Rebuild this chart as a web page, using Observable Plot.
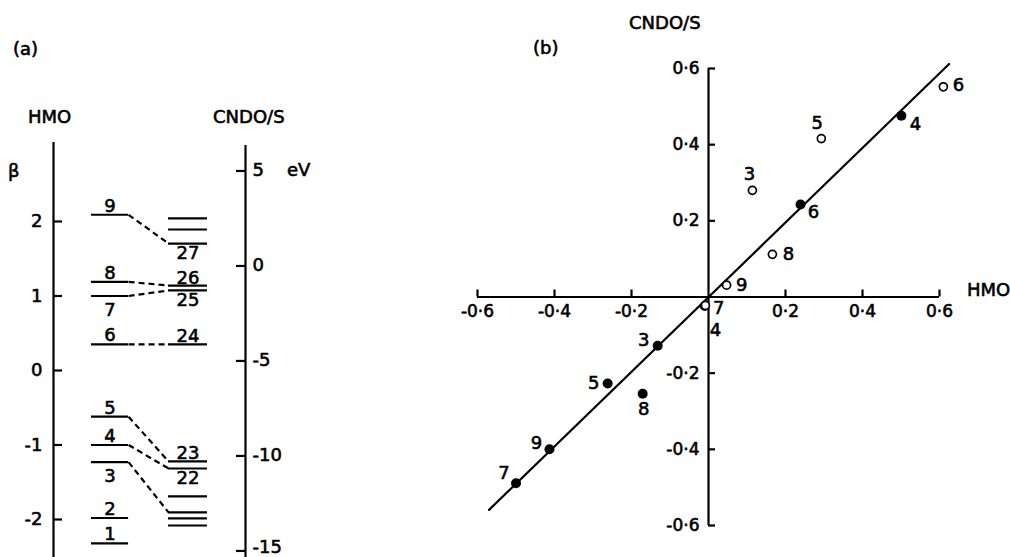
<!DOCTYPE html>
<html><head><meta charset="utf-8">
<script src="https://cdn.jsdelivr.net/npm/d3@7"></script>
<script src="https://cdn.jsdelivr.net/npm/@observablehq/plot@0.6"></script>
<style>
body{margin:0;background:#fff;}
#wrap{position:relative;width:1010px;height:557px;overflow:hidden;font-family:"DejaVu Sans",sans-serif;color:#000;background:#fff;}
.lbl{position:absolute;font-size:18px;line-height:18px;white-space:nowrap;-webkit-text-stroke:0.6px #000;}
#pa,#pb{position:absolute;top:0;}
#pa{left:0;} #pb{left:440px;}
</style></head><body>
<div id="wrap">
  <div id="pa"></div><div id="pb"></div>
  <div class="lbl" style="left:13px;top:40px;">(a)</div>
  <div class="lbl" style="left:28px;top:108px;">HMO</div>
  <div class="lbl" style="left:213px;top:108px;">CNDO/S</div>
  <div class="lbl" style="left:8px;top:162px;">β</div>
  <div class="lbl" style="left:287px;top:161px;">eV</div>
  <div class="lbl" style="left:533px;top:39px;">(b)</div>
  <div class="lbl" style="left:629px;top:14px;">CNDO/S</div>
  <div class="lbl" style="left:967px;top:281px;">HMO</div>
</div>
<script>
// ---------- Panel (a) data ----------
const hmoLabels = ["1","2","3","4","5","6","7","8","9"];
const hmoBeta   = [-2.32, -1.98, -1.23, -1.00, -0.62, 0.35, 1.00, 1.19, 2.09];
const cndoLabels = ["", "", "", "", "22", "23", "24", "25", "26", "27", "", ""];
const cndoEnergy = [-13.66, -13.29, -12.97, -12.13, -10.66, -10.29, -4.13, -1.29, -1.03, 1.18, 1.92, 2.50];
const corrHmoBeta    = [2.09, 1.19, 1.00, 0.35, -0.62, -1.00, -1.23];
const corrCndoEnergy = [1.18, -1.03, -1.29, -4.13, -10.29, -10.66, -12.97];
const betaTicks = [-2, -1, 0, 1, 2];
const eVTicks = [5, 0, -5, -10, -15];

// ---------- Panel (b) data ----------
const filledLabels = ["7","9","5","8","3","6","4"];
const filledHmo    = [-0.500, -0.413, -0.262, -0.171, -0.132, 0.239, 0.501];
const filledCndo   = [-0.489, -0.400, -0.227, -0.254, -0.128, 0.243, 0.476];
const openLabels = ["6","5","3","8","9","7","4"];
const openHmo    = [0.610, 0.293, 0.114, 0.166, 0.047, -0.010, -0.008];
const openCndo   = [0.552, 0.416, 0.280, 0.112, 0.031, -0.024, -0.022];
const fitHmo  = [-0.57, 0.625];
const fitCndo = [-0.559, 0.612];
const axisTicksB = [-0.6, -0.4, -0.2, 0.2, 0.4, 0.6];

// ---------- layout helpers ----------
const FONT = "DejaVu Sans";
const toBeta = e => 1.403 + 0.2550 * e;      // alignment of the eV axis against the β axis
const hmoX = [0.198, 0.391], cndoX = [0.599, 0.802];
const belowHmo = new Set(["3","7"]);
const belowCndo = new Set(["22","25","27"]);
const LW = 2.2;

const hmo = hmoBeta.map((b, i) => ({b, label: hmoLabels[i]}));
const cndo = cndoEnergy.map((e, i) => ({e, label: cndoLabels[i]}));
const links = corrHmoBeta.map((b, i) => ({b, e: corrCndoEnergy[i]}));

const txt = {fontFamily: FONT, fontSize: 18, fill: "black", stroke: "black", strokeWidth: 0.6};
const eVMain = eVTicks.slice(0, -1), eVLast = eVTicks.slice(-1);

const plotA = Plot.plot({
  width: 330, height: 557,
  marginLeft: 53, marginRight: 85, marginTop: 142, marginBottom: 0,
  x: {domain: [0, 1], axis: null},
  y: {domain: [-2.51, 3.06], axis: null},
  style: {fontFamily: FONT, fontSize: "18px", background: "transparent", overflow: "visible"},
  marks: [
    Plot.ruleX([0], {x: d => d, y1: () => -2.51, y2: () => 3.06, strokeWidth: LW}),
    Plot.ruleX([1], {x: d => d, y1: () => -2.51, y2: () => 3.02, strokeWidth: LW}),
    Plot.ruleY(betaTicks, {y: d => d, x1: () => 0, x2: () => 0, insetRight: -9, strokeWidth: LW}),
    Plot.text(betaTicks, {...txt, x: () => 0, y: d => d, text: d => String(d).replace("−", "-"), dx: -11, textAnchor: "end"}),
    Plot.ruleY(eVTicks, {y: d => toBeta(d), x1: () => 1, x2: () => 1, insetLeft: -9, strokeWidth: LW}),
    Plot.text(eVMain, {...txt, x: () => 1, y: d => toBeta(d), text: d => String(d), dx: 7, dy: -1, textAnchor: "start"}),
    Plot.text(eVLast, {...txt, x: () => 1, y: d => toBeta(d), text: d => String(d), dx: 7, dy: -4, textAnchor: "start"}),
    // HMO levels
    Plot.ruleY(hmo, {y: "b", x1: () => hmoX[0], x2: () => hmoX[1], strokeWidth: LW}),
    Plot.text(hmo.filter(d => !belowHmo.has(d.label)), {...txt, x: () => (hmoX[0] + hmoX[1]) / 2, y: "b", text: "label", lineAnchor: "bottom", dy: -3}),
    Plot.text(hmo.filter(d => belowHmo.has(d.label)), {...txt, x: () => (hmoX[0] + hmoX[1]) / 2, y: "b", text: "label", lineAnchor: "top", dy: 7}),
    // CNDO levels
    Plot.ruleY(cndo, {y: d => toBeta(d.e), x1: () => cndoX[0], x2: () => cndoX[1], strokeWidth: LW}),
    Plot.text(cndo.filter(d => d.label && !belowCndo.has(d.label)), {...txt, x: () => (cndoX[0] + cndoX[1]) / 2, y: d => toBeta(d.e), text: "label", lineAnchor: "bottom", dy: -2}),
    Plot.text(cndo.filter(d => belowCndo.has(d.label)), {...txt, x: () => (cndoX[0] + cndoX[1]) / 2, y: d => toBeta(d.e), text: "label", lineAnchor: "top", dy: 3}),
    // correlation dashes
    Plot.link(links, {x1: () => hmoX[1], y1: "b", x2: () => cndoX[0], y2: d => toBeta(d.e), strokeWidth: LW, strokeDasharray: "6,4"})
  ]
});
document.getElementById("pa").appendChild(plotA);

// ---------- Panel (b) ----------
const fmtB = d => (d < 0 ? "-" : "") + Math.abs(d).toFixed(1).replace(".", "·");
const filled = filledHmo.map((x, i) => ({x, y: filledCndo[i], label: filledLabels[i]}));
const open = openHmo.map((x, i) => ({x, y: openCndo[i], label: openLabels[i]}));
const fit = fitHmo.map((x, i) => ({x, y: fitCndo[i]}));
const offFilled = {"7": [-12, -10], "9": [-13, -6], "5": [-14, 0], "8": [1, 16], "3": [-14, -6], "6": [13, 8], "4": [14, 9]};
const offOpen = {"6": [15, -2], "5": [-4, -15], "3": [-3, -16], "8": [16, 0], "9": [15, 0], "7": [14, 2], "4": [10, 25]};

const labelMarks = [];
filled.forEach(d => labelMarks.push(Plot.text([d], {...txt, x: "x", y: "y", text: "label", dx: offFilled[d.label][0], dy: offFilled[d.label][1]})));
open.forEach(d => labelMarks.push(Plot.text([d], {...txt, x: "x", y: "y", text: "label", dx: offOpen[d.label][0], dy: offOpen[d.label][1]})));

const plotB = Plot.plot({
  width: 570, height: 557,
  marginLeft: 37, marginRight: 71, marginTop: 68, marginBottom: 32,
  x: {domain: [-0.6, 0.6], axis: null},
  y: {domain: [-0.6, 0.6], axis: null},
  style: {fontFamily: FONT, fontSize: "18px", background: "transparent", overflow: "visible"},
  marks: [
    Plot.ruleY([0], {y: d => d, x1: () => -0.6, x2: () => 0.6, strokeWidth: LW}),
    Plot.ruleX([0], {x: d => d, y1: () => -0.6, y2: () => 0.6, strokeWidth: LW}),
    Plot.ruleX(axisTicksB, {x: d => d, y1: () => 0, y2: () => 0, insetTop: -7, strokeWidth: LW}),
    Plot.ruleY(axisTicksB, {y: d => d, x1: () => 0, x2: () => 0, insetRight: -7, strokeWidth: LW}),
    Plot.text(axisTicksB, {...txt, fontSize: 17, x: d => d, y: () => 0, text: fmtB, dy: 15, letterSpacing: 1.5}),
    Plot.text(axisTicksB, {...txt, fontSize: 17, x: () => 0, y: d => d, text: fmtB, dx: -9, textAnchor: "end", letterSpacing: 1}),
    Plot.line(fit, {x: "x", y: "y", strokeWidth: LW}),
    Plot.dot(filled, {x: "x", y: "y", r: 5, fill: "black", stroke: "none"}),
    Plot.dot(open, {x: "x", y: "y", r: 4, fill: "white", stroke: "black", strokeWidth: 1.7}),
    ...labelMarks
  ]
});
document.getElementById("pb").appendChild(plotB);
</script>
</body></html>
